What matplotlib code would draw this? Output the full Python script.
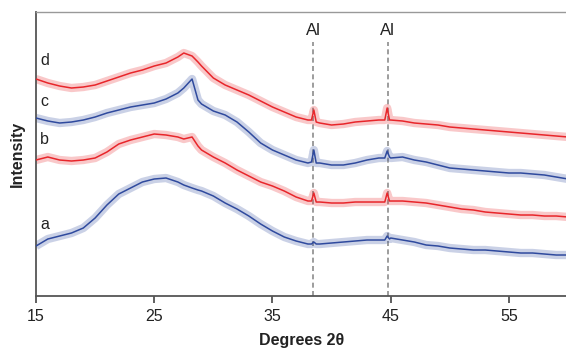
import matplotlib
matplotlib.use("Agg")
import matplotlib.pyplot as plt

plt.rcParams['font.family'] = ['Liberation Sans', 'DejaVu Sans']

# 2-theta positions (degrees) the patterns were read at
two_theta = [15, 16, 17, 18, 19, 20, 21, 22, 23, 24, 25, 26, 27, 27.5, 28.2, 28.7,
             29, 30, 31, 32, 33, 34, 35, 36, 37, 38, 38.3, 38.5, 38.7, 39, 40, 41,
             42, 43, 44, 44.5, 44.7, 44.9, 45, 46, 47, 48, 49, 50, 51, 52, 53, 54,
             55, 56, 57, 58, 59, 60]

# intensities (arbitrary units, already offset for stacking)
pattern_a = [50, 57, 60, 63, 68, 78, 91, 102, 108, 114, 117, 118, 114, 111, 108, 106,
             105, 100, 93, 87, 80, 72, 65, 59, 55, 52, 52, 54, 52, 52, 53, 54,
             55, 56, 56, 56, 60, 57, 58, 56, 54, 51, 50, 48, 47, 46, 46, 45,
             44, 43, 43, 42, 41, 41]
pattern_b = [136, 139, 136, 135, 136, 138, 144, 152, 156, 159, 162, 161, 159, 157, 159, 150,
             146, 139, 133, 126, 120, 114, 110, 105, 99, 95, 95, 103, 94, 94, 93, 93,
             94, 94, 94, 94, 103, 95, 95, 95, 94, 93, 91, 89, 87, 86, 84, 83,
             82, 81, 81, 80, 80, 79]
pattern_c = [178, 175, 173, 174, 176, 179, 183, 186, 189, 191, 193, 197, 203, 208, 217, 196,
             192, 185, 181, 174, 164, 153, 146, 141, 136, 133, 134, 146, 133, 133, 131, 131,
             133, 136, 138, 138, 145, 139, 138, 139, 136, 134, 131, 128, 127, 126, 125, 124,
             123, 123, 122, 121, 119, 117]
pattern_d = [217, 213, 210, 208, 209, 211, 215, 219, 223, 226, 230, 233, 239, 243, 240, 234,
             230, 218, 211, 206, 201, 195, 189, 184, 179, 176, 176, 186, 174, 173, 171, 172,
             174, 175, 176, 176, 188, 176, 176, 175, 173, 172, 171, 169, 168, 167, 166, 165,
             164, 163, 162, 161, 160, 159]

patterns = [pattern_a, pattern_b, pattern_c, pattern_d]
pattern_names = ['a', 'b', 'c', 'd']
pattern_colors = ['#2F4A9E', '#E8262B', '#2F4A9E', '#E8262B']
label_levels = [72, 157, 195, 236]

al_peaks = [38.47, 44.74]

fig = plt.figure(figsize=(5.66, 3.48), dpi=100)
ax = fig.add_axes([0.0636, 0.1494, 0.94, 0.8161])

for pos in al_peaks:
    ax.plot([pos, pos], [0, 254], color='#8C8C8C', linestyle=(0, (3, 2)), linewidth=1.2, zorder=1)
    ax.text(pos, 266, 'Al', ha='center', va='center', fontsize=12, color='#222222')

for y, name, col, lvl in zip(patterns, pattern_names, pattern_colors, label_levels):
    # soft band standing in for the scan noise, then the trace itself
    ax.plot(two_theta, y, color=col, linewidth=6, alpha=0.25, solid_capstyle='butt', zorder=2)
    ax.plot(two_theta, y, color=col, linewidth=1.1, zorder=3)
    ax.text(15.35, lvl, name, ha='left', va='center', fontsize=11.5, color='#222222')

ax.set_xlim(15, 60)
ax.set_ylim(0, 284)
ax.set_xticks([15, 25, 35, 45, 55])
ax.set_yticks([])
ax.tick_params(axis='x', direction='out', length=5, width=1.2, labelsize=11.5,
               colors='#444444', labelcolor='#222222', pad=4)

ax.spines['right'].set_visible(False)
ax.spines['top'].set_color('#999999')
ax.spines['top'].set_linewidth(1.0)
for side in ['left', 'bottom']:
    ax.spines[side].set_color('#555555')
    ax.spines[side].set_linewidth(1.3)

ax.set_xlabel('Degrees 2θ', fontsize=11.5, fontweight='bold', color='#222222', labelpad=7)
ax.set_ylabel('Intensity', fontsize=11.5, fontweight='bold', color='#222222', labelpad=8)

fig.savefig('out.png', dpi=100)
